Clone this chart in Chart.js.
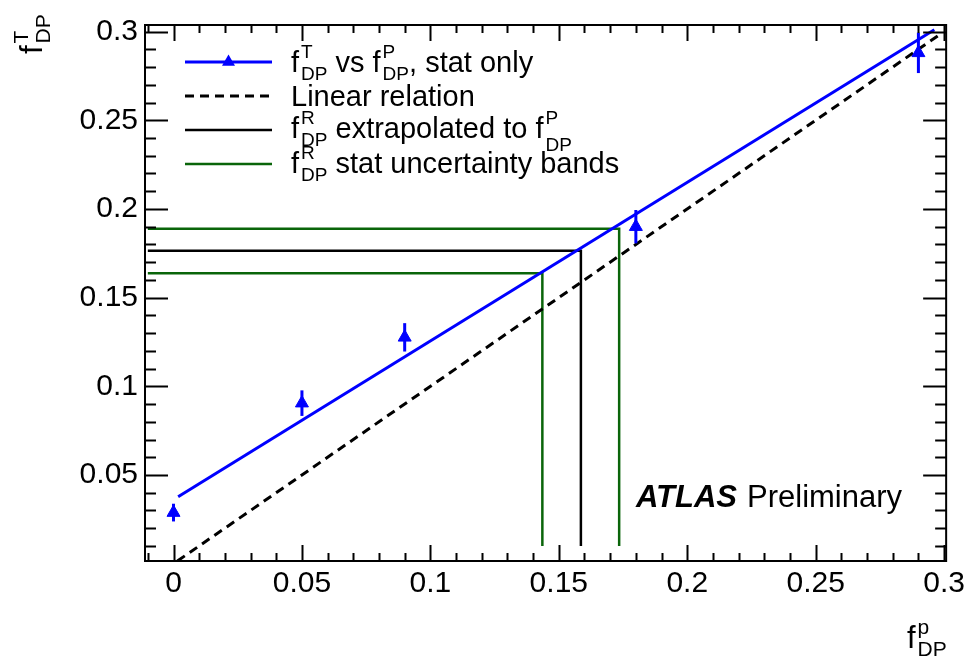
<!DOCTYPE html>
<html>
<head>
<meta charset="utf-8">
<script src="https://cdn.jsdelivr.net/npm/chart.js@4/dist/chart.umd.min.js"></script>
<style>
  html, body { margin: 0; padding: 0; background: #fff; }
  #wrap { width: 970px; height: 660px; }
</style>
</head>
<body>
<div id="wrap"><canvas id="grafico" width="970" height="660"></canvas></div>
<script>
// puntos f_DP^T vs f_DP^P (solo estadistica)
const fP = [0, 0.05, 0.09, 0.18, 0.29];
const fT = [0.0288, 0.0905, 0.1276, 0.190, 0.288];
const fTErr = [0.005, 0.0072, 0.008, 0.0094, 0.0114];

// ajuste lineal (azul) y relacion lineal y = x (punteada)
const ajusteX = [0.0018, 0.2962];
const ajusteY = [0.0377, 0.301];
const linealX = [0.0015, 0.2975];
const linealY = [0.0015, 0.2975];

// f_DP^R extrapolado y sus bandas
const extrapX = [-0.01, 0.1586, 0.1586];
const extrapY = [0.1764, 0.1764, 0.01];
const bandaAltaX = [-0.01, 0.1735, 0.1735];
const bandaAltaY = [0.1888, 0.1888, 0.01];
const bandaBajaX = [-0.01, 0.1436, 0.1436];
const bandaBajaY = [0.1637, 0.1637, 0.01];

// ejes
const xTicks = [0, 0.05, 0.1, 0.15, 0.2, 0.25, 0.3];
const yTicks = [0.05, 0.1, 0.15, 0.2, 0.25, 0.3];
const X_MIN = -0.0111, X_MAX = 0.3008;
const Y_MIN = 0.0015, Y_MAX = 0.3037;
const MINOR = 0.01;

const AZUL = '#0000ff';
const VERDE = '#0a650a';
const FUENTE = '"Liberation Sans", Arial, Helvetica, sans-serif';

const pares = (xs, ys) => xs.map((x, i) => ({ x: x, y: ys[i] }));

// texto con super/subindices al estilo ROOT: partes {t} o {sup, sub}
function textoRico(ctx, x, y, partes, tam, tamSub) {
  ctx.textBaseline = 'alphabetic';
  ctx.textAlign = 'left';
  partes.forEach(p => {
    if (p.t !== undefined) {
      ctx.font = tam + 'px ' + FUENTE;
      ctx.fillText(p.t, x, y);
      x += ctx.measureText(p.t).width;
    } else {
      x += 2;
      ctx.font = tamSub + 'px ' + FUENTE;
      let w = 0;
      if (p.sup) { ctx.fillText(p.sup, x, y - 14); w = Math.max(w, ctx.measureText(p.sup).width); }
      if (p.sub) { ctx.fillText(p.sub, x, y + (p.baja || 8)); w = Math.max(w, ctx.measureText(p.sub).width); }
      x += w;
    }
  });
  return x;
}

// barras de error verticales
const barrasError = {
  id: 'barrasError',
  afterDatasetsDraw(chart) {
    const ctx = chart.ctx;
    const sx = chart.scales.x, sy = chart.scales.y;
    ctx.save();
    ctx.strokeStyle = AZUL;
    ctx.lineWidth = 3;
    fP.forEach((x, i) => {
      const px = sx.getPixelForValue(x);
      ctx.beginPath();
      ctx.moveTo(px, sy.getPixelForValue(fT[i] - fTErr[i]));
      ctx.lineTo(px, sy.getPixelForValue(fT[i] + fTErr[i]));
      ctx.stroke();
    });
    ctx.restore();
  }
};

// marco con marcas hacia adentro en los cuatro lados
const marco = {
  id: 'marco',
  afterDraw(chart) {
    const ctx = chart.ctx;
    const a = chart.chartArea;
    const sx = chart.scales.x, sy = chart.scales.y;
    ctx.save();
    ctx.strokeStyle = '#000';
    ctx.lineWidth = 2;
    ctx.strokeRect(a.left, a.top, a.right - a.left, a.bottom - a.top);
    ctx.beginPath();
    for (let k = Math.ceil(X_MIN / MINOR); k * MINOR <= X_MAX + 1e-9; k++) {
      const v = k * MINOR;
      const mayor = k % 5 === 0;
      const px = Math.round(sx.getPixelForValue(v)) + 0.5;
      const l = mayor ? 16 : 8;
      ctx.moveTo(px, a.bottom); ctx.lineTo(px, a.bottom - l);
      ctx.moveTo(px, a.top); ctx.lineTo(px, a.top + l);
    }
    for (let k = Math.ceil(Y_MIN / MINOR); k * MINOR <= Y_MAX + 1e-9; k++) {
      const v = k * MINOR;
      const mayor = k % 5 === 0;
      const py = Math.round(sy.getPixelForValue(v)) + 0.5;
      const l = mayor ? 23 : 11;
      ctx.moveTo(a.left, py); ctx.lineTo(a.left + l, py);
      ctx.moveTo(a.right, py); ctx.lineTo(a.right - l, py);
    }
    ctx.stroke();
    ctx.restore();
  }
};

// leyenda, titulos de ejes y etiqueta ATLAS
const textos = {
  id: 'textos',
  afterDraw(chart) {
    const ctx = chart.ctx;
    ctx.save();
    ctx.fillStyle = '#000';

    const x0 = 185, x1 = 272, xt = 291;
    const filas = [62, 96, 130, 164];

    // fila 1: linea azul con triangulo
    ctx.strokeStyle = AZUL; ctx.lineWidth = 3;
    ctx.beginPath(); ctx.moveTo(x0, filas[0]); ctx.lineTo(x1, filas[0]); ctx.stroke();
    ctx.fillStyle = AZUL;
    const r = 7.5, cx = (x0 + x1) / 2, cy = filas[0];
    ctx.beginPath();
    ctx.moveTo(cx, cy - r);
    ctx.lineTo(cx + r * 0.866, cy + r * 0.5);
    ctx.lineTo(cx - r * 0.866, cy + r * 0.5);
    ctx.closePath(); ctx.fill();

    // fila 2: punteada
    ctx.strokeStyle = '#000'; ctx.lineWidth = 3;
    ctx.setLineDash([9, 6]);
    ctx.beginPath(); ctx.moveTo(x0, filas[1]); ctx.lineTo(x1, filas[1]); ctx.stroke();
    ctx.setLineDash([]);

    // fila 3 y 4
    ctx.lineWidth = 2.5;
    ctx.beginPath(); ctx.moveTo(x0, filas[2]); ctx.lineTo(x1, filas[2]); ctx.stroke();
    ctx.strokeStyle = VERDE;
    ctx.beginPath(); ctx.moveTo(x0, filas[3]); ctx.lineTo(x1, filas[3]); ctx.stroke();

    ctx.fillStyle = '#000';
    textoRico(ctx, xt, filas[0] + 10, [{ t: 'f' }, { sup: 'T', sub: 'DP' }, { t: ' vs f' }, { sup: 'P', sub: 'DP' }, { t: ', stat only' }], 29, 19);
    textoRico(ctx, xt, filas[1] + 10, [{ t: 'Linear relation' }], 29, 19);
    textoRico(ctx, xt, filas[2] + 8, [{ t: 'f' }, { sup: 'R', sub: 'DP' }, { t: ' extrapolated to f' }, { sup: 'P', sub: 'DP', baja: 13 }], 29, 19);
    textoRico(ctx, xt, filas[3] + 9, [{ t: 'f' }, { sup: 'R', sub: 'DP' }, { t: ' stat uncertainty bands' }], 29, 19);

    // ATLAS Preliminary
    ctx.font = 'italic bold 31px ' + FUENTE;
    ctx.textBaseline = 'alphabetic';
    ctx.fillText('ATLAS', 636, 507);
    ctx.font = '31px ' + FUENTE;
    ctx.fillText('Preliminary', 747, 507);

    // titulo eje x
    textoRico(ctx, 907, 648, [{ t: 'f' }, { sup: 'p', sub: 'DP' }], 31, 21);

    // titulo eje y (rotado)
    ctx.translate(42, 54);
    ctx.rotate(-Math.PI / 2);
    textoRico(ctx, 0, 0, [{ t: 'f' }, { sup: 'T', sub: 'DP' }], 31, 21);
    ctx.restore();
  }
};

const lineaCfg = (data, color, ancho, guiones) => ({
  data: data,
  showLine: true,
  borderColor: color,
  borderWidth: ancho,
  borderDash: guiones || [],
  pointRadius: 0,
  fill: false
});

new Chart(document.getElementById('grafico'), {
  type: 'scatter',
  data: {
    datasets: [
      {
        data: pares(fP, fT),
        showLine: false,
        pointStyle: 'triangle',
        pointRadius: 7.5,
        backgroundColor: AZUL,
        borderColor: AZUL,
        borderWidth: 1
      },
      lineaCfg(pares(ajusteX, ajusteY), AZUL, 3),
      lineaCfg(pares(linealX, linealY), '#000', 3, [9, 6]),
      lineaCfg(pares(extrapX, extrapY), '#000', 2.5),
      lineaCfg(pares(bandaAltaX, bandaAltaY), VERDE, 2.5),
      lineaCfg(pares(bandaBajaX, bandaBajaY), VERDE, 2.5)
    ]
  },
  options: {
    responsive: false,
    animation: false,
    events: [],
    layout: { padding: { top: 15, right: 22, left: 0, bottom: 0 } },
    plugins: { legend: { display: false }, tooltip: { enabled: false } },
    scales: {
      x: {
        type: 'linear',
        min: X_MIN,
        max: X_MAX,
        grid: { display: false, drawTicks: false },
        border: { display: false },
        ticks: {
          color: '#000',
          font: { family: FUENTE, size: 30 },
          padding: 5,
          autoSkip: false,
          maxRotation: 0,
          callback: v => String(v)
        },
        afterBuildTicks: s => { s.ticks = xTicks.map(v => ({ value: v })); },
        afterFit: s => { s.height = 99; }
      },
      y: {
        type: 'linear',
        min: Y_MIN,
        max: Y_MAX,
        grid: { display: false, drawTicks: false },
        border: { display: false },
        ticks: {
          color: '#000',
          font: { family: FUENTE, size: 30 },
          padding: 7,
          autoSkip: false,
          callback: v => String(v)
        },
        afterBuildTicks: s => { s.ticks = yTicks.map(v => ({ value: v })); },
        afterFit: s => { s.width = 145; }
      }
    }
  },
  plugins: [barrasError, marco, textos]
});
</script>
</body>
</html>
